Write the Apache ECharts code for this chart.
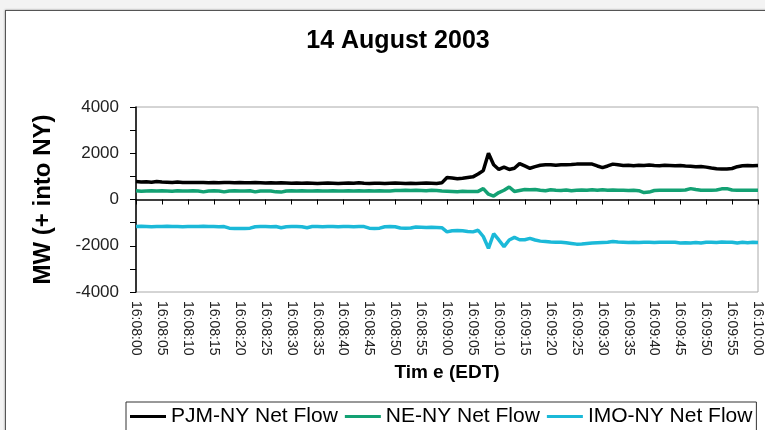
<!DOCTYPE html>
<html>
<head>
<meta charset="utf-8">
<script src="https://cdn.jsdelivr.net/npm/echarts@6/dist/echarts.min.js"></script>
<style>
  html, body { margin: 0; padding: 0; background: #f3f3f3; }
  #frame { position: absolute; left: 5px; top: 10px; width: 780px; height: 440px;
           background: #fff; border: 1px solid #555; box-shadow: 0 0 2px #888; }
  #main { position: absolute; left: 0; top: 0; width: 765px; height: 430px; }
</style>
</head>
<body>
<div id="frame"></div>
<div id="main"></div>
<script>
// one sample per second, 16:08:00 .. 16:10:00
const startSec = 16 * 3600 + 8 * 60
const sampleCount = 121
const categories = []
for (let i = 0; i < sampleCount; i++) {
  const t = startSec + i
  const hh = Math.floor(t / 3600)
  const mm = String(Math.floor(t / 60) % 60).padStart(2, '0')
  const ss = String(t % 60).padStart(2, '0')
  categories.push(hh + ':' + mm + ':' + ss)
}

const seriesNames = ['PJM-NY Net Flow', 'NE-NY Net Flow', 'IMO-NY Net Flow']

const pjmFlow = [
  780, 760, 770, 750, 780, 760, 750, 740, 760, 740, 740,
  730, 740, 730, 720, 730, 720, 730, 740, 720, 730,
  720, 720, 730, 720, 710, 720, 710, 720, 710, 700,
  710, 700, 710, 700, 690, 700, 710, 700, 690, 700,
  710, 700, 720, 700, 690, 700, 700, 690, 700, 710,
  700, 690, 700, 690, 700, 710, 700, 690, 720, 950,
  930, 900, 920, 950, 980, 1100, 1250, 2000, 1500, 1300,
  1400, 1300, 1350, 1550, 1450, 1350, 1420, 1480, 1500, 1500,
  1480, 1500, 1500, 1510, 1530, 1540, 1530, 1530, 1450, 1380,
  1450, 1530, 1500, 1470, 1480, 1460, 1480, 1470, 1490, 1470,
  1460, 1480, 1470, 1460, 1470, 1450, 1440, 1420, 1430, 1400,
  1360, 1330, 1320, 1320, 1340, 1420, 1460, 1470, 1460, 1470
]

const neFlow = [
  380, 360, 370, 380, 370, 380, 370, 360, 380, 370, 370,
  380, 370, 330, 370, 380, 370, 330, 370, 380, 370,
  370, 380, 330, 370, 370, 370, 330, 320, 370, 380,
  370, 380, 370, 370, 380, 370, 370, 380, 370, 370,
  380, 370, 380, 370, 380, 370, 380, 370, 370, 390,
  390, 400, 390, 400, 390, 380, 400, 390, 370, 360,
  350, 340, 360, 350, 350, 350, 470, 230, 150, 300,
  400, 540, 350, 390, 430, 420, 430, 400, 380, 420,
  400, 390, 410, 380, 400, 410, 400, 420, 400, 420,
  400, 410, 400, 400, 390, 400, 380, 300, 320, 390,
  400, 400, 400, 400, 400, 410, 470, 430, 400, 400,
  400, 410, 460, 470, 410, 400, 400, 400, 400, 400
]

const imoFlow = [
  -1170, -1160, -1170, -1180, -1170, -1170, -1160, -1170, -1170, -1180, -1170,
  -1170, -1170, -1160, -1170, -1170, -1180, -1170, -1240, -1250, -1250,
  -1250, -1240, -1180, -1170, -1170, -1180, -1170, -1220, -1180, -1170,
  -1170, -1180, -1220, -1170, -1170, -1180, -1170, -1170, -1180, -1170,
  -1170, -1180, -1170, -1170, -1240, -1250, -1240, -1180, -1170, -1180,
  -1230, -1240, -1230, -1190, -1200, -1210, -1200, -1210, -1220, -1400,
  -1350, -1340, -1350, -1380, -1400, -1330, -1600, -2110, -1480, -1750,
  -2040, -1750, -1640, -1740, -1740, -1680, -1750, -1800, -1820, -1840,
  -1850, -1850, -1870, -1900, -1930, -1920, -1900, -1880, -1870, -1860,
  -1850, -1820, -1840, -1850, -1860, -1850, -1860, -1850, -1850, -1860,
  -1850, -1850, -1850, -1850, -1880, -1870, -1880, -1860, -1880, -1850,
  -1850, -1860, -1840, -1850, -1850, -1880, -1850, -1870, -1850, -1860
]

const seriesColors = ['#000000', '#13a173', '#1bb9d8']

const chart = echarts.init(document.getElementById('main'))
const font = 'Liberation Sans, Arial, sans-serif'

chart.setOption({
  animation: false,
  color: seriesColors,
  title: {
    text: '14 August 2003',
    left: 393,
    top: 24,
    textAlign: 'center',
    textStyle: { fontFamily: font, fontSize: 25, fontWeight: 'bold', color: '#000' }
  },
  legend: {
    data: seriesNames,
    left: 126,
    top: 402,
    width: 700,
    icon: 'rect',
    itemWidth: 36,
    itemHeight: 3,
    itemGap: 7,
    padding: [4, 4, 4, 4],
    borderColor: '#333',
    borderWidth: 1,
    textStyle: { fontFamily: font, fontSize: 21, color: '#000' }
  },
  grid: {
    left: 136,
    top: 107,
    right: 1,
    bottom: 138,
    show: true,
    borderColor: '#aaa',
    borderWidth: 1
  },
  xAxis: {
    type: 'category',
    data: categories,
    boundaryGap: false,
    name: 'Tim e (EDT)',
    nameLocation: 'middle',
    nameGap: 71,
    nameTextStyle: { fontFamily: font, fontSize: 19, fontWeight: 'bold', color: '#000' },
    axisLine: { lineStyle: { color: '#000', width: 1.5 } },
    axisTick: { interval: 4, length: 5, lineStyle: { color: '#000' } },
    axisLabel: {
      interval: 4,
      rotate: -90,
      margin: 9,
      fontFamily: font,
      fontSize: 14,
      color: '#222'
    },
    splitLine: { show: false }
  },
  yAxis: {
    type: 'value',
    min: -4000,
    max: 4000,
    interval: 1000,
    name: 'MW (+ into NY)',
    nameLocation: 'middle',
    nameGap: 81,
    nameTextStyle: { fontFamily: font, fontSize: 24, fontWeight: 'bold', color: '#000' },
    axisLine: { show: true, lineStyle: { color: '#000', width: 1.5 } },
    axisTick: { show: true, length: 6, lineStyle: { color: '#000' } },
    axisLabel: {
      margin: 17,
      fontFamily: font,
      fontSize: 17,
      color: '#222',
      formatter: function (v) { return v % 2000 === 0 ? String(v) : '' }
    },
    splitLine: { show: false }
  },
  series: [
    { name: seriesNames[0], type: 'line', data: pjmFlow, showSymbol: false, lineStyle: { width: 3.5 } },
    { name: seriesNames[1], type: 'line', data: neFlow, showSymbol: false, lineStyle: { width: 3.5 } },
    { name: seriesNames[2], type: 'line', data: imoFlow, showSymbol: false, lineStyle: { width: 3.5 } }
  ]
})
</script>
</body>
</html>
